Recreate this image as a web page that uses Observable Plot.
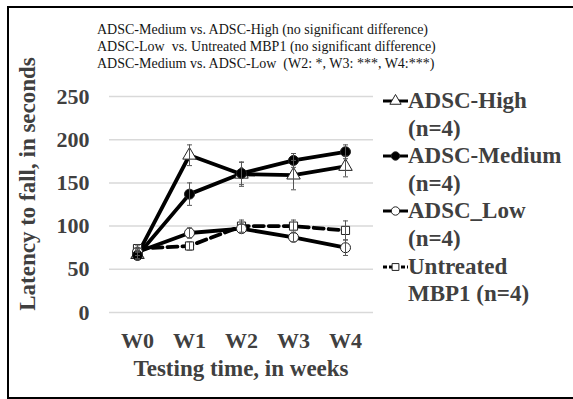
<!DOCTYPE html>
<html>
<head>
<meta charset="utf-8">
<script src="https://cdn.jsdelivr.net/npm/d3@7"></script>
<script src="https://cdn.jsdelivr.net/npm/@observablehq/plot@0.6"></script>
<style>
  body { margin: 0; background: #fff; }
  #wrap { position: relative; width: 573px; height: 399px; overflow: hidden; font-family: "Liberation Serif", "Times New Roman", serif; }
  #frame { position: absolute; left: 7px; top: 6px; width: 620px; height: 393px; box-sizing: border-box; border: 2px solid #000; border-right: none; }
  #chart { position: absolute; left: 0; top: 0; }
  #notes { position: absolute; left: 97px; top: 21px; font-size: 14px; line-height: 17px; color: #151515; white-space: pre; }
  #xlabel { position: absolute; left: 241px; top: 357px; transform: translateX(-50%); font-size: 23px; line-height: 23px; font-weight: bold; color: #404040; white-space: nowrap; }
  #ylabel { position: absolute; left: 27px; top: 184px; transform: translate(-50%, -50%) rotate(-90deg); font-size: 23px; line-height: 23px; font-weight: bold; color: #404040; white-space: nowrap; }
  #legend { position: absolute; left: 383px; top: 87px; font-size: 23px; line-height: 27.6px; font-weight: bold; color: #404040; }
  .entry { display: flex; align-items: flex-start; }
  .entry svg { flex: none; margin-top: 7px; }
</style>
</head>
<body>
<div id="wrap">
  <div id="chart"></div>
  <div id="notes"></div>
  <div id="xlabel"></div>
  <div id="ylabel"></div>
  <div id="legend"></div>
  <div id="frame"></div>
</div>
<script>
const weeks = ["W0", "W1", "W2", "W3", "W4"];
const seriesNames = ["ADSC-High", "ADSC-Medium", "ADSC_Low", "Untreated MBP1"];
const legendLines = [["ADSC-High", "(n=4)"], ["ADSC-Medium", "(n=4)"], ["ADSC_Low", "(n=4)"], ["Untreated", "MBP1 (n=4)"]];
const highMean = [67, 182, 160, 159, 169];
const highErr = [5, 12, 14, 17, 12];
const mediumMean = [66, 137, 161, 176, 186];
const mediumErr = [4, 13, 13, 8, 8];
const lowMean = [70, 92, 97, 87, 75];
const lowErr = [4, 6, 5, 5, 9];
const untreatedMean = [74, 77, 100, 100, 95];
const untreatedErr = [4, 5, 7, 7, 11];
const yTicks = [0, 50, 100, 150, 200, 250];
const notes = [
  "ADSC-Medium vs. ADSC-High (no significant difference)",
  "ADSC-Low  vs. Untreated MBP1 (no significant difference)",
  "ADSC-Medium vs. ADSC-Low  (W2: *, W3: ***, W4:***)"
];
const xTitle = "Testing time, in weeks";
const yTitle = "Latency to fall, in seconds";

const means = [highMean, mediumMean, lowMean, untreatedMean];
const errs = [highErr, mediumErr, lowErr, untreatedErr];
const styles = [
  {symbol: "triangle", fill: "white", dash: null, r: 5},
  {symbol: "circle", fill: "black", dash: null, r: 5},
  {symbol: "circle", fill: "white", dash: null, r: 5},
  {symbol: "square", fill: "white", dash: "10,5", r: 4.6}
];

const data = [];
seriesNames.forEach((s, i) => weeks.forEach((w, j) => data.push({series: s, week: w, mean: means[i][j], err: errs[i][j]})));

const cap = {
  draw(context, size) {
    const r = Math.sqrt(size / Math.PI);
    context.moveTo(-r, 0);
    context.lineTo(r, 0);
  }
};

const font = "Liberation Serif, Times New Roman, serif";
const marks = [
  Plot.gridY(yTicks, {stroke: "#d9d9d9", strokeOpacity: 1, strokeWidth: 1.5}),
  Plot.axisY(yTicks, {tickSize: 0, tickPadding: 20, fontSize: 22, fontWeight: "bold", fontFamily: font, fill: "#404040", label: null}),
  Plot.axisX({tickSize: 0, tickPadding: 20, fontSize: 22, fontWeight: "bold", fontFamily: font, fill: "#404040", label: null})
];
seriesNames.forEach((s, i) => {
  const d = data.filter(e => e.series === s);
  marks.push(Plot.line(d, {x: "week", y: "mean", stroke: "black", strokeWidth: 3.8, strokeDasharray: styles[i].dash, strokeLinejoin: "round"}));
});
[3, 2, 0, 1].forEach(i => {
  const d = data.filter(e => e.series === seriesNames[i]);
  marks.push(Plot.dot(d, {x: "week", y: "mean", symbol: styles[i].symbol, r: styles[i].r, fill: styles[i].fill, stroke: "#222", strokeWidth: 1}));
});
marks.push(Plot.ruleX(data, {x: "week", y1: d => d.mean - d.err, y2: d => d.mean + d.err, stroke: "#555", strokeWidth: 1}));
marks.push(Plot.dot(data, {x: "week", y: d => d.mean + d.err, symbol: cap, r: 2.5, stroke: "#555", strokeWidth: 1, fill: "none"}));
marks.push(Plot.dot(data, {x: "week", y: d => d.mean - d.err, symbol: cap, r: 2.5, stroke: "#555", strokeWidth: 1, fill: "none"}));

const chart = Plot.plot({
  width: 573,
  height: 399,
  marginLeft: 109,
  marginRight: 200,
  marginTop: 96,
  marginBottom: 87,
  style: {fontFamily: font, background: "transparent", overflow: "visible"},
  x: {type: "point", domain: weeks, padding: 0.5, label: null},
  y: {domain: [0, 250], label: null},
  marks
});
document.getElementById("chart").append(chart);

document.getElementById("notes").textContent = notes.join("\n");
document.getElementById("xlabel").textContent = xTitle;
document.getElementById("ylabel").textContent = yTitle;

const legend = document.getElementById("legend");
seriesNames.forEach((s, i) => {
  const entry = document.createElement("div");
  entry.className = "entry";
  const st = styles[i];
  const symType = st.symbol === "triangle" ? d3.symbolTriangle : st.symbol === "square" ? d3.symbolSquare : d3.symbolCircle;
  const path = d3.symbol(symType, st.r * st.r * Math.PI * 0.7)();
  entry.innerHTML =
    `<svg width="25" height="14" viewBox="0 0 25 14">` +
    `<line x1="0" x2="25" y1="7" y2="7" stroke="black" stroke-width="3"${st.dash ? ' stroke-dasharray="4,2"' : ''}/>` +
    `<path d="${path}" transform="translate(12.5,7)" fill="${st.fill}" stroke="#222" stroke-width="1"/></svg>` +
    `<div>${legendLines[i].map(t => `<div>${t}</div>`).join("")}</div>`;
  legend.append(entry);
});
</script>
</body>
</html>
